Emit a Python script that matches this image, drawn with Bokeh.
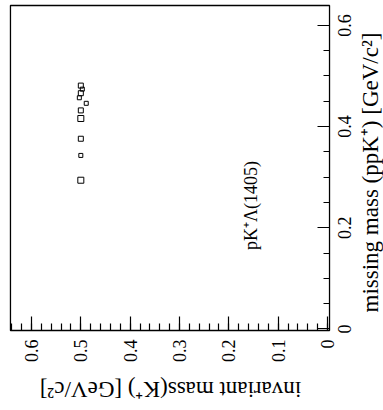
import math
from bokeh.plotting import figure
from bokeh.models import Range1d, FixedTicker, CustomJSTickFormatter, LinearAxis, Label, ColumnDataSource
from bokeh.core.properties import value
from bokeh.embed import file_html
from bokeh.resources import INLINE

# invariant mass (K+) [GeV/c^2] -> drawn along the bottom (reversed)
inv_mass = [0.500, 0.497, 0.500, 0.503, 0.489, 0.500, 0.500, 0.500, 0.500, 0.500]
# missing mass (ppK+) [GeV/c^2] -> drawn along the right side
miss_mass = [0.481, 0.474, 0.466, 0.457, 0.446, 0.432, 0.416, 0.376, 0.343, 0.294]
box_size = [5, 4, 5, 4, 4, 5, 6, 5, 4, 6]

inv_ticks = [0.0, 0.1, 0.2, 0.3, 0.4, 0.5, 0.6]
inv_tick_labels = ["0", "0.1", "0.2", "0.3", "0.4", "0.5", "0.6"]
inv_minor = [round(i * 0.02, 2) for i in range(0, 33)]
miss_ticks = [0.0, 0.2, 0.4, 0.6]
miss_tick_labels = ["0", "0.2", "0.4", "0.6"]
miss_minor = [round(i * 0.05, 2) for i in range(0, 13)]

x_title = "invariant mass(K\u207a) [GeV/c\u00b2]"
y_title = "missing mass (ppK\u207a) [GeV/c\u00b2]"
reaction = "pK\u207a\u039b(1405)"

# plot box (axis limits) and the whole canvas extent, in data units
INV_LEFT, INV_RIGHT = 0.6426, -0.0041
MISS_BOTTOM, MISS_TOP = -0.003, 0.6393
CANVAS_X = (0.6628, -0.1135)
CANVAS_Y = (-0.1611, 0.6492)
# where the tick labels sit, in data units
INV_LABEL_Y = -0.0208
MISS_LABEL_X = -0.0345

FONT = "Liberation Serif"

p = figure(width=383, height=410, output_backend="svg", toolbar_location=None,
           x_range=Range1d(*CANVAS_X), y_range=Range1d(*CANVAS_Y),
           x_axis_location=None, y_axis_location=None,
           min_border=0)
p.grid.visible = False
p.outline_line_color = None
p.background_fill_color = "white"
p.border_fill_color = "white"

blank = CustomJSTickFormatter(code="return '';")

# plot box
p.quad(left=[INV_LEFT], right=[INV_RIGHT], bottom=[MISS_BOTTOM], top=[MISS_TOP],
       fill_color=None, line_color="black", line_width=1.3)

xa = LinearAxis(ticker=FixedTicker(ticks=inv_ticks, minor_ticks=inv_minor), formatter=blank,
                fixed_location=MISS_BOTTOM)
xa.axis_line_color = None
xa.major_tick_in = 14
xa.major_tick_out = 0
xa.minor_tick_in = 7
xa.minor_tick_out = 0
xa.major_tick_line_width = 1.2
xa.minor_tick_line_width = 1.2
p.add_layout(xa, "below")

ya = LinearAxis(ticker=FixedTicker(ticks=miss_ticks, minor_ticks=miss_minor), formatter=blank,
                fixed_location=INV_RIGHT)
ya.axis_line_color = None
ya.major_tick_in = 12
ya.major_tick_out = 0
ya.minor_tick_in = 6
ya.minor_tick_out = 0
ya.major_tick_line_width = 1.2
ya.minor_tick_line_width = 1.2
p.add_layout(ya, "right")

# tick labels (rotated like the rest of the figure)
inv_src = ColumnDataSource(dict(x=inv_ticks, y=[INV_LABEL_Y] * len(inv_ticks), t=inv_tick_labels))
p.text(x="x", y="y", text="t", source=inv_src, angle=math.pi / 2,
       text_align="right", text_baseline="middle",
       text_font_size="18px", text_color="black", text_font=value(FONT))

miss_src = ColumnDataSource(dict(x=[MISS_LABEL_X] * len(miss_ticks), y=miss_ticks, t=miss_tick_labels))
p.text(x="x", y="y", text="t", source=miss_src, angle=math.pi / 2,
       text_align="center", text_baseline="middle",
       text_font_size="18px", text_color="black", text_font=value(FONT))

p.scatter(inv_mass, miss_mass, marker="square", size=box_size,
          fill_color=None, line_color="black", line_width=1)

p.add_layout(Label(x=0.156, y=0.244, text=reaction, angle=math.pi / 2,
                   text_align="center", text_baseline="middle",
                   text_font=FONT, text_font_size="18px", text_color="black"))

p.add_layout(Label(x=0.3182, y=-0.1196, text=x_title, angle=math.pi,
                   text_align="center", text_baseline="middle",
                   text_font=FONT, text_font_size="23px", text_color="black"))

p.add_layout(Label(x=-0.0872, y=0.3093, text=y_title, angle=math.pi / 2,
                   text_align="center", text_baseline="middle",
                   text_font=FONT, text_font_size="23px", text_color="black"))

open("out.html", "w").write(file_html(p, INLINE))
